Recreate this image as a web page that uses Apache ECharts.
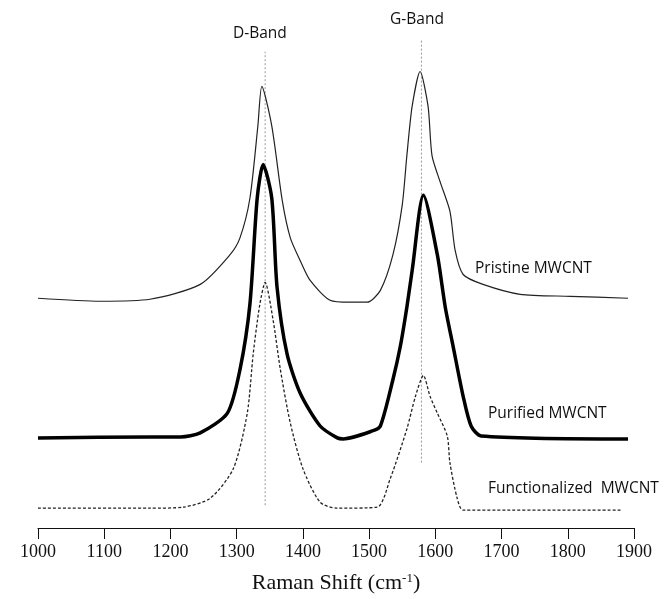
<!DOCTYPE html>
<html>
<head>
<meta charset="utf-8">
<title>Raman spectra of MWCNT</title>
<script src="https://cdn.jsdelivr.net/npm/echarts@6/dist/echarts.min.js"></script>
<style>
  html, body { margin: 0; padding: 0; background: #fff; }
  #chart { width: 668px; height: 599px; }
</style>
</head>
<body>
<div id="chart"></div>
<script>
// raman shift (cm-1) and intensity (a.u.)
var pristineShift     = [1000, 1094, 1169, 1245, 1290, 1305, 1320, 1332, 1338, 1353, 1369, 1381, 1396, 1411, 1441, 1471, 1497, 1517, 1536, 1550, 1557, 1565, 1577, 1589, 1595, 1607, 1622, 1630, 1642, 1672, 1728, 1804, 1891];
var pristineIntensity = [232, 229, 231, 246, 276, 293, 333, 406, 446, 406, 330, 293, 270, 250, 230, 228, 228, 240, 276, 326, 376, 426, 461, 426, 376, 350, 320, 280, 256, 246, 236, 234, 232];

var purifiedShift     = [1000, 1169, 1215, 1245, 1286, 1305, 1320, 1331, 1340, 1353, 1361, 1376, 1396, 1426, 1452, 1461, 1505, 1517, 1536, 1547, 1557, 1565, 1582, 1603, 1615, 1627, 1642, 1654, 1669, 1891];
var purifiedIntensity = [91, 92, 92, 96, 116, 160, 226, 333, 367, 333, 243, 176, 136, 103, 91, 90, 98, 103, 150, 183, 223, 260, 336, 276, 223, 183, 133, 103, 93, 90];

var funcShift     = [1000, 1169, 1219, 1260, 1295, 1316, 1325, 1335, 1343, 1355, 1366, 1381, 1400, 1426, 1452, 1512, 1532, 1557, 1570, 1582, 1592, 1603, 1618, 1622, 1633, 1642, 1882];
var funcIntensity = [20, 20, 21, 30, 60, 116, 176, 226, 248, 210, 160, 106, 60, 26, 20, 21, 50, 100, 133, 154, 133, 116, 93, 66, 30, 18, 18];

// band guides: position and vertical extent
var bandNames = ['D-Band', 'G-Band'];
var bandShift = [1343, 1579];
var bandTop = [481, 493];
var bandBottom = [23, 66];

var xTicks = [1000, 1100, 1200, 1300, 1400, 1500, 1600, 1700, 1800, 1900];

function pairs(xs, ys) {
	var out = [];
	for (var i = 0; i < xs.length; i++) out.push([xs[i], ys[i]]);
	return out;
}

var chart = echarts.init(document.getElementById('chart'));

var series = [
	{
		name: 'Pristine MWCNT',
		type: 'line',
		data: pairs(pristineShift, pristineIntensity),
		smooth: 0.25,
		symbol: 'none',
		lineStyle: { color: '#222', width: 1.2 }
	},
	{
		name: 'Purified MWCNT',
		type: 'line',
		data: pairs(purifiedShift, purifiedIntensity),
		smooth: 0.25,
		symbol: 'none',
		lineStyle: { color: '#000', width: 3.5 }
	},
	{
		name: 'Functionalized MWCNT',
		type: 'line',
		data: pairs(funcShift, funcIntensity),
		smooth: 0.25,
		symbol: 'none',
		lineStyle: { color: '#222', width: 1.3, type: [3, 2] }
	}
];

for (var b = 0; b < bandShift.length; b++) {
	series.push({
		name: bandNames[b],
		type: 'line',
		data: [[bandShift[b], bandBottom[b]], [bandShift[b], bandTop[b]]],
		symbol: 'none',
		z: 1,
		lineStyle: { color: '#999', width: 1, type: [2, 2] }
	});
}

var labelFont = "'Open Sans', sans-serif";

chart.setOption({
	animation: false,
	backgroundColor: '#fff',
	grid: { left: 38, right: 34, top: 20, bottom: 66 },
	xAxis: {
		type: 'value',
		min: 1000,
		max: 1900,
		interval: 100,
		name: 'Raman Shift (cm{sup|-1})',
		nameLocation: 'middle',
		nameGap: 44,
		nameTextStyle: {
			fontFamily: "'Liberation Serif', serif",
			fontSize: 22,
			color: '#111',
			rich: {
				sup: { fontFamily: "'Liberation Serif', serif", fontSize: 13, verticalAlign: 'top', padding: [0, 0, 9, 0], color: '#111' }
			}
		},
		axisLine: { show: true, onZero: false, lineStyle: { color: '#111', width: 1 } },
		axisTick: { show: true, inside: false, length: 11, lineStyle: { color: '#111' } },
		axisLabel: {
			margin: 15,
			fontFamily: "'Liberation Serif', serif",
			fontSize: 18,
			color: '#111',
			customValues: xTicks,
			formatter: function(v) { return String(v); }
		},
		splitLine: { show: false }
	},
	yAxis: {
		type: 'value',
		min: 0,
		max: 513,
		show: false
	},
	graphic: [
		{ type: 'text', left: 233, top: 26, style: { text: bandNames[0], font: '15.5px ' + labelFont, fill: '#111' } },
		{ type: 'text', left: 390, top: 12, style: { text: bandNames[1], font: '15.5px ' + labelFont, fill: '#111' } },
		{ type: 'text', left: 475, top: 261, style: { text: 'Pristine MWCNT', font: '15.5px ' + labelFont, fill: '#111' } },
		{ type: 'text', left: 488, top: 406, style: { text: 'Purified MWCNT', font: '15.5px ' + labelFont, fill: '#111' } },
		{ type: 'text', left: 488, top: 481, style: { text: 'Functionalized  MWCNT', font: '15.5px ' + labelFont, fill: '#111' } }
	],
	series: series
});
</script>
</body>
</html>
